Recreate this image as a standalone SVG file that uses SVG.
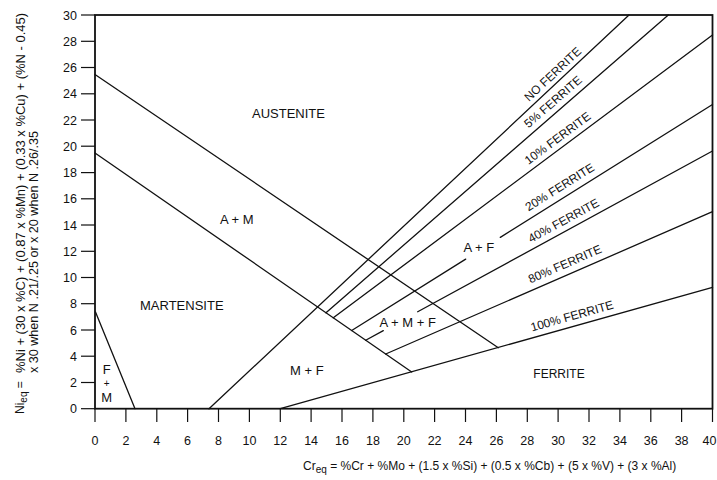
<svg xmlns="http://www.w3.org/2000/svg" width="717" height="480" viewBox="0 0 717 480">
<style>
text{font-family:"Liberation Sans",Arial,Helvetica,sans-serif;fill:#111;}
.tick{font-size:12.5px;}
.ty{text-anchor:end;}
.tx{text-anchor:middle;}
.reg{font-size:13px;}
.fl{font-size:12px;}
.ax{font-size:12px;}
.ln{fill:none;stroke:#111;stroke-width:1.3;stroke-linecap:round;}
.tk{stroke:#111;stroke-width:1.2;}
.frame{fill:#fff;stroke:#111;stroke-width:1.8;}
</style>
<rect width="717" height="480" fill="#fff"/>
<g id="frame">
<rect class="frame" x="95" y="15" width="617.5" height="393.7"/>
</g>
<g id="y-axis">
<g class="tk">
<line x1="81" y1="408.7" x2="95" y2="408.7"/><line x1="81" y1="382.5" x2="95" y2="382.5"/>
<line x1="81" y1="356.2" x2="95" y2="356.2"/><line x1="81" y1="330" x2="95" y2="330"/>
<line x1="81" y1="303.7" x2="95" y2="303.7"/><line x1="81" y1="277.5" x2="95" y2="277.5"/>
<line x1="81" y1="251.3" x2="95" y2="251.3"/><line x1="81" y1="225" x2="95" y2="225"/>
<line x1="81" y1="198.8" x2="95" y2="198.8"/><line x1="81" y1="172.6" x2="95" y2="172.6"/>
<line x1="81" y1="146.2" x2="95" y2="146.2"/><line x1="81" y1="120" x2="95" y2="120"/>
<line x1="81" y1="93.8" x2="95" y2="93.8"/><line x1="81" y1="67.5" x2="95" y2="67.5"/>
<line x1="81" y1="41.3" x2="95" y2="41.3"/><line x1="81" y1="15" x2="95" y2="15"/>
</g>
<g class="tick ty">
<text x="77" y="413.2">0</text><text x="77" y="387">2</text><text x="77" y="360.7">4</text>
<text x="77" y="334.5">6</text><text x="77" y="308.2">8</text><text x="77" y="282">10</text>
<text x="77" y="255.8">12</text><text x="77" y="229.5">14</text><text x="77" y="203.3">16</text>
<text x="77" y="177.1">18</text><text x="77" y="150.7">20</text><text x="77" y="124.5">22</text>
<text x="77" y="98.3">24</text><text x="77" y="72">26</text><text x="77" y="45.8">28</text>
<text x="77" y="19.5">30</text>
</g>
<text class="ax" transform="translate(24,414) rotate(-90)" font-size="13">Ni<tspan font-size="10" dy="3">eq</tspan><tspan dy="-3"> =</tspan></text>
<text class="ax" transform="translate(25,373) rotate(-90)" font-size="13" textLength="360" lengthAdjust="spacingAndGlyphs">%Ni + (30 x %C) + (0.87 x %Mn) + (0.33 x %Cu) + (%N - 0.45)</text>
<text class="ax" transform="translate(38,373) rotate(-90)" font-size="13" textLength="242" lengthAdjust="spacingAndGlyphs">x 30 when N .21/.25 or x 20 when N .26/.35</text>
</g>
<g id="x-axis">
<g class="tk">
<line x1="95" y1="408.7" x2="95" y2="422"/><line x1="125.9" y1="408.7" x2="125.9" y2="422"/>
<line x1="156.8" y1="408.7" x2="156.8" y2="422"/><line x1="187.6" y1="408.7" x2="187.6" y2="422"/>
<line x1="218.5" y1="408.7" x2="218.5" y2="422"/><line x1="249.4" y1="408.7" x2="249.4" y2="422"/>
<line x1="280.3" y1="408.7" x2="280.3" y2="422"/><line x1="311.1" y1="408.7" x2="311.1" y2="422"/>
<line x1="342" y1="408.7" x2="342" y2="422"/><line x1="372.9" y1="408.7" x2="372.9" y2="422"/>
<line x1="403.8" y1="408.7" x2="403.8" y2="422"/><line x1="434.6" y1="408.7" x2="434.6" y2="422"/>
<line x1="465.5" y1="408.7" x2="465.5" y2="422"/><line x1="496.4" y1="408.7" x2="496.4" y2="422"/>
<line x1="527.3" y1="408.7" x2="527.3" y2="422"/><line x1="558.1" y1="408.7" x2="558.1" y2="422"/>
<line x1="589" y1="408.7" x2="589" y2="422"/><line x1="619.9" y1="408.7" x2="619.9" y2="422"/>
<line x1="650.8" y1="408.7" x2="650.8" y2="422"/><line x1="681.6" y1="408.7" x2="681.6" y2="422"/>
<line x1="712.5" y1="408.7" x2="712.5" y2="422"/>
</g>
<g class="tick tx">
<text x="95" y="445">0</text><text x="125.9" y="445">2</text><text x="156.8" y="445">4</text>
<text x="187.6" y="445">6</text><text x="218.5" y="445">8</text><text x="249.4" y="445">10</text>
<text x="280.3" y="445">12</text><text x="311.1" y="445">14</text><text x="342" y="445">16</text>
<text x="372.9" y="445">18</text><text x="403.8" y="445">20</text><text x="434.6" y="445">22</text>
<text x="465.5" y="445">24</text><text x="496.4" y="445">26</text><text x="527.3" y="445">28</text>
<text x="558.1" y="445">30</text><text x="589" y="445">32</text><text x="619.9" y="445">34</text>
<text x="650.8" y="445">36</text><text x="681.6" y="445">38</text><text x="709.5" y="445">40</text>
</g>
<text class="ax" x="303" y="470">Cr<tspan font-size="10" dy="3">eq</tspan><tspan dy="-3"> = %Cr + %Mo + (1.5 x %Si) + (0.5 x %Cb) + (5 x %V) + (3 x %Al)</tspan></text>
</g>
<g id="connectors">
<line class="ln" x1="95" y1="74.5" x2="498.3" y2="347.7"/>
<line class="ln" x1="95" y1="153" x2="411.7" y2="372"/>
<line class="ln" x1="95.5" y1="312" x2="135" y2="408.7"/>
<line class="ln" x1="209" y1="408.7" x2="629" y2="15"/>
<line class="ln" x1="326" y1="312.7" x2="668.3" y2="15"/>
<line class="ln" x1="333.3" y1="317.8" x2="712.5" y2="35"/>
<line class="ln" x1="351.7" y1="330.5" x2="465.7" y2="259.1"/>
<line class="ln" x1="500.3" y1="237.4" x2="712.5" y2="104.5"/>
<line class="ln" x1="365.7" y1="340.2" x2="383.3" y2="330.6"/>
<line class="ln" x1="417.7" y1="311.8" x2="712.5" y2="151"/>
<line class="ln" x1="385.7" y1="354" x2="712.5" y2="211.7"/>
<line class="ln" x1="280.3" y1="408.7" x2="712.5" y2="287.3"/>
</g>
<g id="austenite"><text class="reg" x="252" y="117.5">AUSTENITE</text></g>
<g id="a-m"><text class="reg" x="220" y="224">A + M</text></g>
<g id="martensite"><text class="reg" x="140" y="309.5">MARTENSITE</text></g>
<g id="f-m"><text class="reg tx" x="106.7" y="374">F</text><text class="tx" font-size="10" x="106.7" y="387">+</text><text class="reg tx" x="106.7" y="402">M</text></g>
<g id="m-f"><text class="reg" x="290" y="374.5">M + F</text></g>
<g id="a-m-f"><text class="reg" x="379.5" y="327">A + M + F</text></g>
<g id="a-f"><text class="reg" x="463.5" y="252">A + F</text></g>
<g id="ferrite"><text class="fl" x="533.3" y="378">FERRITE</text></g>
<g id="no-ferrite"><text class="fl" transform="translate(529,102) rotate(-43.1)">NO FERRITE</text></g>
<g id="ferrite-5"><text class="fl" transform="translate(528.5,128.5) rotate(-41)">5% FERRITE</text></g>
<g id="ferrite-10"><text class="fl" transform="translate(528.5,165) rotate(-36.7)">10% FERRITE</text></g>
<g id="ferrite-20"><text class="fl" transform="translate(528.5,211.5) rotate(-32.1)">20% FERRITE</text></g>
<g id="ferrite-40"><text class="fl" transform="translate(531,243) rotate(-28.6)">40% FERRITE</text></g>
<g id="ferrite-80"><text class="fl" transform="translate(530.5,283.5) rotate(-23.5)">80% FERRITE</text></g>
<g id="ferrite-100"><text class="fl" transform="translate(532,331.5) rotate(-15.7)">100% FERRITE</text></g>
</svg>
